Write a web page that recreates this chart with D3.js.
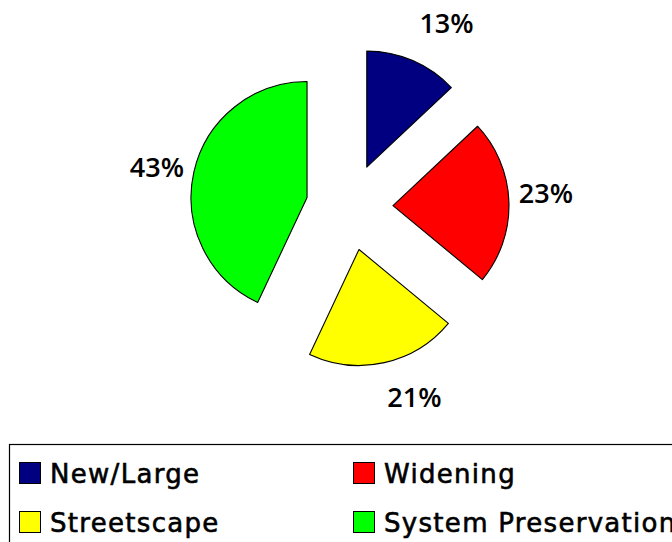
<!DOCTYPE html>
<html>
<head>
<meta charset="utf-8">
<script src="https://cdn.jsdelivr.net/npm/d3@7/dist/d3.min.js"></script>
<style>
  html, body { margin: 0; padding: 0; background: #fff; }
  svg { display: block; }
</style>
</head>
<body>
<svg id="chart" width="672" height="542"></svg>
<script>
// Share of program spending by project type
const categories = ["New/Large", "Widening", "Streetscape", "System Preservation"];
const shares = [13, 23, 21, 43];
const labels = ["13%", "23%", "21%", "43%"];
const colors = ["#000080", "#FF0000", "#FFFF00", "#00FF00"];

const svg = d3.select("#chart");

const cx = 349.5, cy = 207;
const radius = 116;
const explode = 43.5;
const labelRadius = 158;
// fine adjustments of the percentage labels around each exploded slice
const labelNudge = [[17, 1], [-5, -7], [21, -6], [4, 4]];

const data = categories.map((c, i) => ({ name: c, value: shares[i], label: labels[i], color: colors[i] }));

const pie = d3.pie().sort(null).value(d => d.value);
const arc = d3.arc().innerRadius(0).outerRadius(radius);
const arcs = pie(data);

const mid = a => (a.startAngle + a.endAngle) / 2;

const g = svg.append("g").attr("transform", `translate(${cx},${cy})`);

g.selectAll("path.slice")
  .data(arcs)
  .join("path")
  .attr("class", "slice")
  .attr("d", arc)
  .attr("transform", a => {
    const m = mid(a);
    return `translate(${explode * Math.sin(m)},${-explode * Math.cos(m)})`;
  })
  .attr("fill", a => a.data.color)
  .attr("stroke", "#000")
  .attr("stroke-width", 1.1)
  .attr("stroke-linejoin", "round");

g.selectAll("text.pct")
  .data(arcs)
  .join("text")
  .attr("class", "pct")
  .attr("x", (a, i) => (explode + labelRadius) * Math.sin(mid(a)) + labelNudge[i][0])
  .attr("y", (a, i) => -(explode + labelRadius) * Math.cos(mid(a)) + labelNudge[i][1])
  .attr("dy", "0.36em")
  .attr("text-anchor", "middle")
  .attr("font-family", "'Open Sans', sans-serif")
  .attr("font-weight", 600)
  .attr("font-size", 27)
  .attr("fill", "#000")
  .text(a => a.data.label);

// Legend box, running off the right and bottom edges
svg.append("rect")
  .attr("x", 9.5).attr("y", 444.5)
  .attr("width", 700).attr("height", 120)
  .attr("fill", "#fff")
  .attr("stroke", "#000")
  .attr("stroke-width", 1.2);

const col = d3.scaleOrdinal().domain([0, 1]).range([19, 353]);
const row = d3.scaleOrdinal().domain([0, 1]).range([462, 511]);

const items = svg.selectAll("g.item")
  .data(data)
  .join("g")
  .attr("class", "item")
  .attr("transform", (d, i) => `translate(${col(i % 2)},${row(Math.floor(i / 2))})`);

items.append("rect")
  .attr("x", 0.5).attr("y", 0.5)
  .attr("width", 21).attr("height", 21)
  .attr("fill", d => d.color)
  .attr("stroke", "#000")
  .attr("stroke-width", 1);

items.append("text")
  .attr("x", 31)
  .attr("y", 21)
  .attr("font-family", "'DejaVu Sans', sans-serif")
  .attr("font-size", 26)
  .attr("letter-spacing", 1.3)
  .attr("fill", "#000")
  .attr("stroke", "#000")
  .attr("stroke-width", 0.6)
  .text(d => d.name);
</script>
</body>
</html>
